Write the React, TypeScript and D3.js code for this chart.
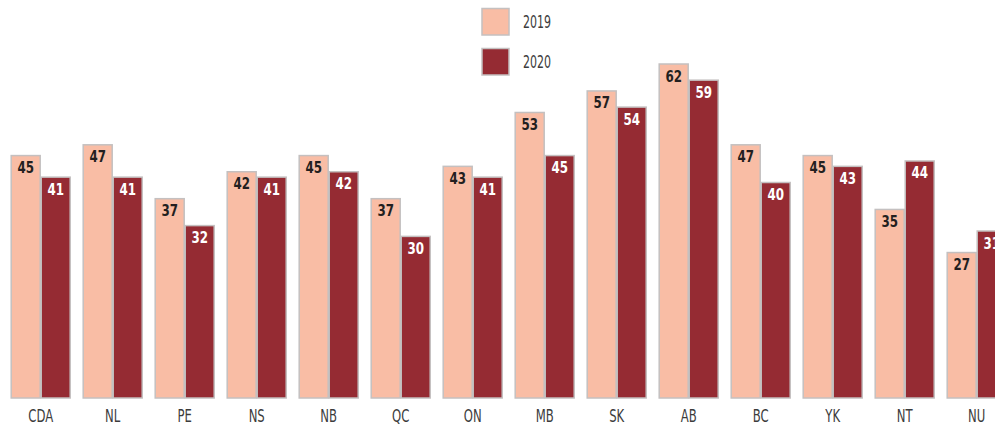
import React, { useRef, useEffect } from 'react';
import * as d3 from 'd3';

const categories = ['CDA', 'NL', 'PE', 'NS', 'NB', 'QC', 'ON', 'MB', 'SK', 'AB', 'BC', 'YK', 'NT', 'NU'];
const seriesNames = ['2019', '2020'];
const values2019 = [45, 47, 37, 42, 45, 37, 43, 53, 57, 62, 47, 45, 35, 27];
const values2020 = [41, 41, 32, 41, 42, 30, 41, 45, 54, 59, 40, 43, 44, 31];
const colors = ['#f9bda5', '#952b33'];
const labelColors = ['#231f20', '#ffffff'];

const width = 995;
const height = 425;
// condensed face, squeezed a bit more to look like the original narrow font
const font = '"DejaVu Sans Condensed", "DejaVu Sans", sans-serif';

const App: React.FC = () => {
  const svgRef = useRef<SVGSVGElement>(null);

  useEffect(() => {
    if (!svgRef.current) return;
    document.body.style.margin = '0';
    const svg = d3.select(svgRef.current);
    svg.selectAll('*').remove();

    const baseline = 398;
    const x0 = 10.7;
    const step = 72;

    const xScale = d3
      .scaleBand<string>()
      .domain(categories)
      .range([x0, x0 + step * (categories.length - 12 / 72)])
      .paddingInner(12 / 72)
      .paddingOuter(0);

    const xInner = d3
      .scaleBand<string>()
      .domain(seriesNames)
      .range([0, xScale.bandwidth()])
      .padding(0);

    const yScale = d3.scaleLinear().domain([0, 62]).range([baseline, 64]);

    const data = categories.map((c, i) => ({
      cat: c,
      vals: [values2019[i], values2020[i]],
    }));

    // bars
    const groups = svg
      .append('g')
      .selectAll('g')
      .data(data)
      .enter()
      .append('g')
      .attr('transform', (d) => `translate(${xScale(d.cat)},0)`);

    seriesNames.forEach((s, si) => {
      groups
        .append('rect')
        .attr('x', xInner(s)! + 0.5)
        .attr('y', (d) => yScale(d.vals[si]))
        .attr('width', xInner.bandwidth() - 1)
        .attr('height', (d) => baseline - yScale(d.vals[si]))
        .attr('fill', colors[si])
        .attr('stroke', '#c4c0c0')
        .attr('stroke-width', 1.5);

      groups
        .append('text')
        .attr(
          'transform',
          (d) =>
            `translate(${xInner(s)! + xInner.bandwidth() / 2},${yScale(d.vals[si]) + 17.5}) scale(0.8,1)`
        )
        .attr('text-anchor', 'middle')
        .attr('font-family', font)
        .attr('font-weight', 'bold')
        .attr('font-size', 16.5)
        .attr('fill', labelColors[si])
        .text((d) => d.vals[si]);
    });

    // category labels
    svg
      .append('g')
      .selectAll('text')
      .data(categories)
      .enter()
      .append('text')
      .attr('transform', (d) => `translate(${xScale(d)! + xScale.bandwidth() / 2},421.5) scale(0.72,1)`)
      .attr('text-anchor', 'middle')
      .attr('font-family', font)
      .attr('font-size', 18)
      .attr('fill', '#3c3c3c')
      .text((d) => d);

    // legend
    const legend = svg
      .append('g')
      .selectAll('g')
      .data(seriesNames)
      .enter()
      .append('g')
      .attr('transform', (d, i) => `translate(482,${8.5 + i * 40})`);

    legend
      .append('rect')
      .attr('width', 27)
      .attr('height', 26.5)
      .attr('fill', (d, i) => colors[i])
      .attr('stroke', '#c4c0c0')
      .attr('stroke-width', 1.5);

    legend
      .append('text')
      .attr('transform', 'translate(41,19.3) scale(0.7,1)')
      .attr('font-family', font)
      .attr('font-size', 17.5)
      .attr('fill', '#3c3c3c')
      .text((d) => d);
  }, []);

  return (
    <svg
      ref={svgRef}
      width={width}
      height={height}
      style={{ position: 'absolute', left: 0, top: 0, background: '#fff' }}
    />
  );
};

export default App;
